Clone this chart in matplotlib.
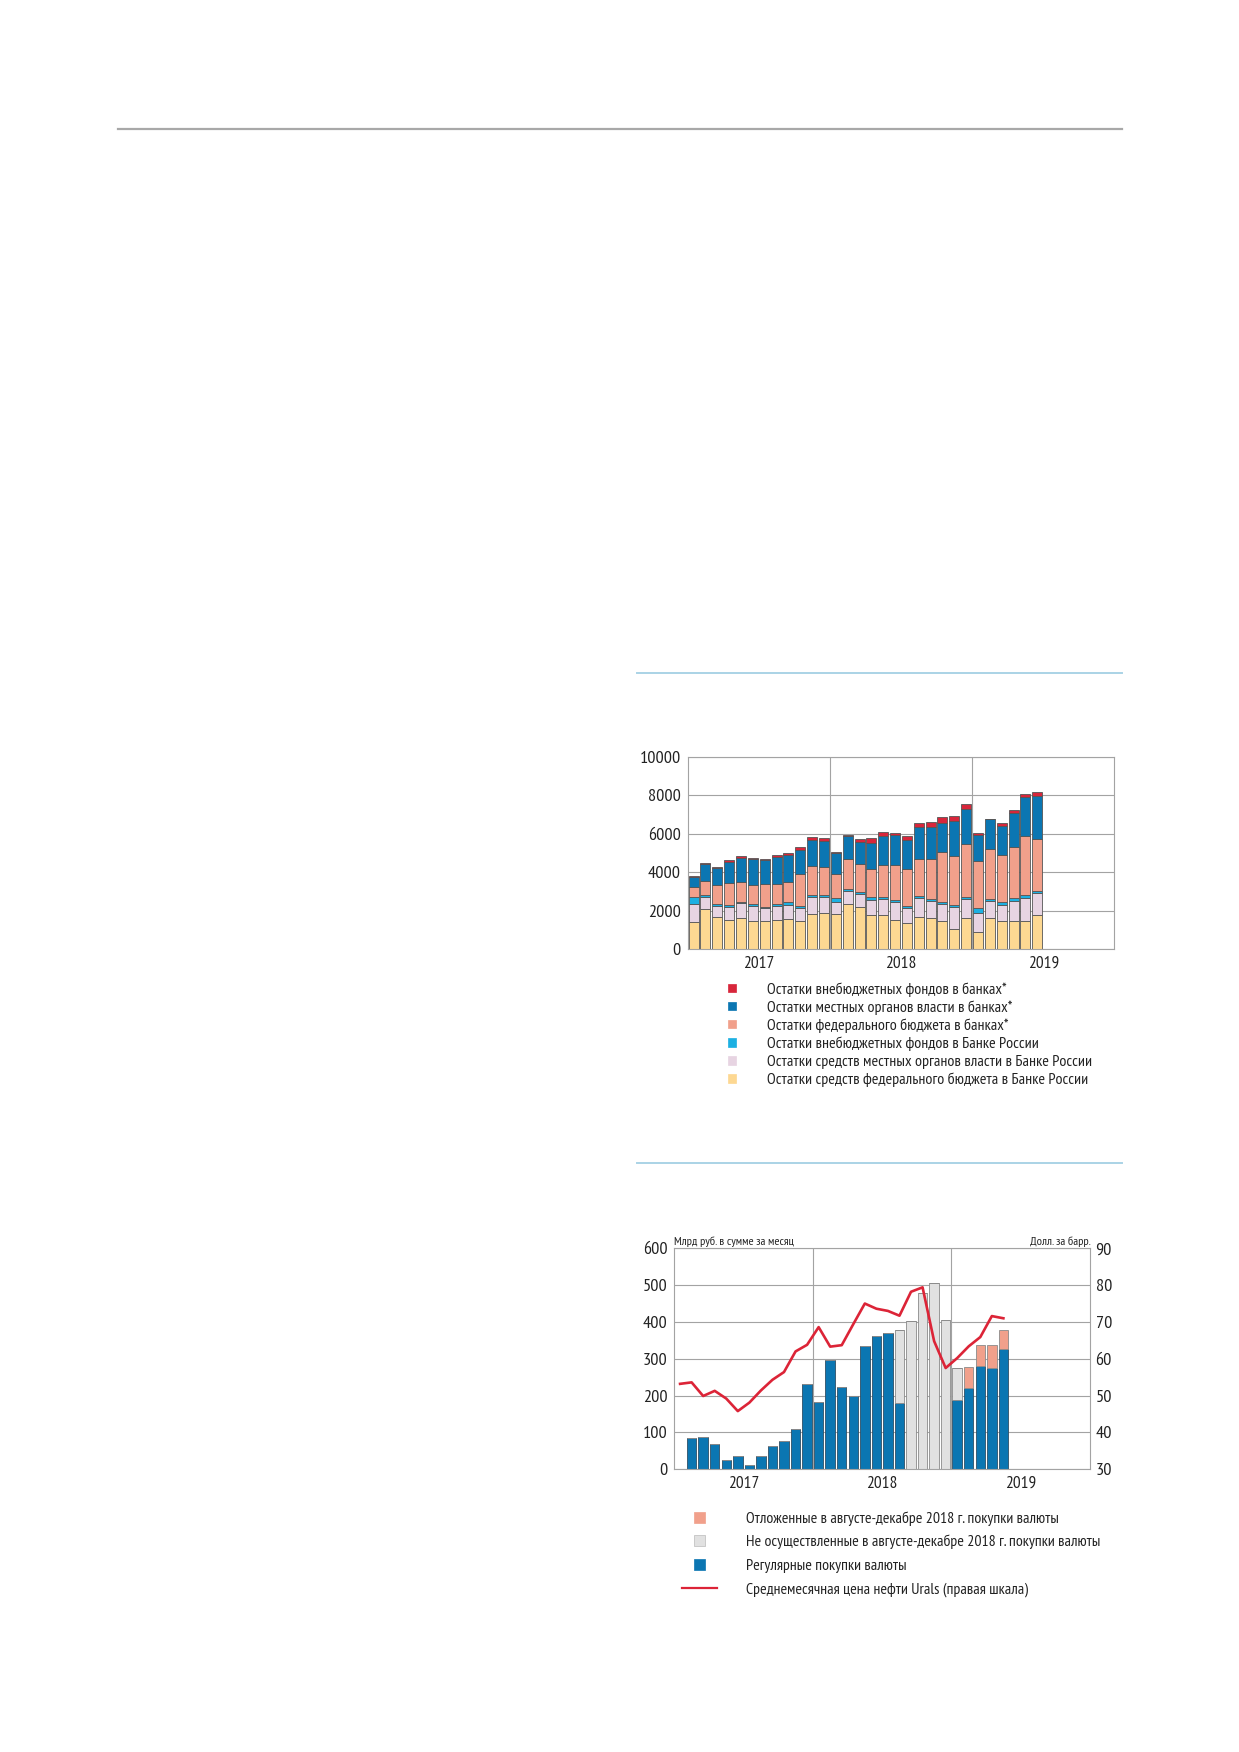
import numpy as np
import matplotlib
matplotlib.use('Agg')
import matplotlib.pyplot as plt
from matplotlib.lines import Line2D
from matplotlib.patches import Rectangle
from matplotlib import font_manager, ft2font
from matplotlib.font_manager import FontProperties
from matplotlib.textpath import TextPath

# chart 1: balances, bn rub, Jan 2017 - Jun 2019 (monthly)
fed_cbr = [1420, 2100, 1660, 1500, 1640, 1470, 1490, 1500, 1590, 1490, 1850, 1900,
           1850, 2360, 2205, 1795, 1795, 1540, 1385, 1675, 1640, 1490, 1075, 1625,
           890, 1625, 1490, 1490, 1470, 1795]
loc_cbr = [920, 635, 595, 720, 740, 785, 650, 740, 735, 680, 870, 820,
           595, 665, 650, 770, 820, 920, 755, 990, 855, 850, 1115, 990,
           1010, 905, 800, 1005, 1215, 1110]
offb_cbr = [360, 85, 105, 90, 80, 105, 80, 120, 105, 100, 100, 100,
            225, 105, 105, 135, 120, 120, 115, 105, 120, 120, 120, 120,
            220, 100, 140, 170, 135, 135]
fed_banks = [550, 735, 970, 1110, 1060, 955, 1150, 1040, 1040, 1630, 1505, 1455,
             1260, 1570, 1485, 1470, 1640, 1780, 1900, 1930, 2085, 2580, 2545, 2755,
             2480, 2585, 2475, 2650, 3060, 2705]
loc_banks = [510, 855, 870, 1130, 1230, 1370, 1245, 1390, 1420, 1280, 1365, 1365,
             1060, 1160, 1145, 1370, 1525, 1590, 1535, 1660, 1675, 1540, 1810, 1790,
             1350, 1555, 1505, 1745, 2035, 2235]
offb_banks = [40, 50, 90, 65, 70, 65, 65, 130, 120, 120, 140, 140,
              70, 90, 155, 220, 185, 100, 210, 205, 240, 275, 275, 260,
              100, 20, 135, 170, 155, 175]
labels1 = ['Остатки средств федерального бюджета в Банке России',
           'Остатки средств местных органов власти в Банке России',
           'Остатки внебюджетных фондов в Банке России',
           'Остатки федерального бюджета в банках*',
           'Остатки местных органов власти в банках*',
           'Остатки внебюджетных фондов в банках*']
colors1 = ['#fdd892', '#e7d4e2', '#1cb0e2', '#f1a08b', '#0b76b2', '#d8263b']
ticks1 = [0, 2000, 4000, 6000, 8000, 10000]

years = ['2017', '2018', '2019']

# chart 2: FX purchases, bn rub per month, Feb 2017 - May 2019
regular = [85, 87, 70, 24, 37, 11, 37, 64, 77, 110, 232,
           182, 298, 224, 199, 335, 361, 369, 181, 0, 0, 0, 0,
           188, 221, 281, 276, 326]
not_done = [0, 0, 0, 0, 0, 0, 0, 0, 0, 0, 0,
            0, 0, 0, 0, 0, 0, 0, 198, 403, 478, 505, 405,
            88, 0, 0, 0, 0]
deferred = [0, 0, 0, 0, 0, 0, 0, 0, 0, 0, 0,
            0, 0, 0, 0, 0, 0, 0, 0, 0, 0, 0, 0,
            0, 57, 57, 62, 51]
# Urals, USD/bbl, Jan 2017 - May 2019
urals = [53.2, 53.6, 49.9, 51.3, 49.2, 45.8, 48.1, 51.4, 54.3, 56.4, 62.0, 63.8,
         68.6, 63.3, 63.7, 69.4, 75.0, 73.6, 73.0, 71.7, 78.2, 79.4, 64.8, 57.5,
         60.2, 63.4, 65.9, 71.6, 71.0]
labels2 = ['Отложенные в августе-декабре 2018 г. покупки валюты',
           'Не осуществленные в августе-декабре 2018 г. покупки валюты',
           'Регулярные покупки валюты',
           'Среднемесячная цена нефти Urals (правая шкала)']
colors2 = ['#f1a08b', '#e1e1e1', '#0b76b2', '#dc2437']
ticks2 = [0, 100, 200, 300, 400, 500, 600]
ticks2r = [30, 40, 50, 60, 70, 80, 90]

# the original face is a condensed sans; pick an upright regular condensed font
# whose width/cap-height ratio is closest to the reference legend text
bad = ('italic', 'oblique', 'bold', 'light', 'thin', 'black', 'medium', 'heavy')
best = None
for f in font_manager.fontManager.ttflist:
    if not ('Narrow' in f.name or 'Condensed' in f.name or 'condensed' in str(f.stretch)):
        continue
    try:
        ft = ft2font.FT2Font(f.fname)
        if any(k in ft.style_name.lower() for k in bad):
            continue
        if ord('ж') not in ft.get_charmap():
            continue
        p = FontProperties(fname=f.fname)
        w = TextPath((0, 0), labels1[0], size=10, prop=p).get_extents().width
        c = TextPath((0, 0), 'Н', size=10, prop=p).get_extents().height
    except Exception:
        continue
    score = abs(w / c - 27.5)
    if best is None or score < best[0]:
        best = (score, f.fname)
fname = best[1] if best else None

def fp(size):
    if fname:
        return FontProperties(fname=fname, size=size)
    return FontProperties(family='Roboto', size=size)

def fit(s, px):
    # font size (pt) so that string s is px pixels wide at dpi 100
    w = TextPath((0, 0), s, size=10, prop=fp(10)).get_extents().width * 100 / 72
    return 10 * px / w

tick_fs = min(fit('10000', 39), 13.5)
year_fs = min(fit('2017', 29.5), 13.5)
leg1_fs = min(fit(labels1[0], 317), 12.5)
leg2_fs = min(fit(labels2[1], 351), 12.5)
small_fs = min(fit('Млрд руб. в сумме за месяц', 118), 9)

W, H = 1239, 1752
fig = plt.figure(figsize=(W / 100, H / 100), dpi=100)

def box(l, t, r, b):
    return [l / W, 1 - b / H, (r - l) / W, (b - t) / H]

def hline(x0, x1, y, col, lw):
    fig.add_artist(Line2D([x0 / W, x1 / W], [1 - y / H, 1 - y / H], color=col, lw=lw))

hline(118, 1122, 129, '#a8a8a8', 1.6)
hline(637, 1122, 673, '#aad3e6', 1.4)
hline(637, 1122, 1163, '#aad3e6', 1.4)

grid_col = '#a3a3a3'
txt_col = '#222222'

def style(ax, yt):
    ax.set_xlim(0, 36)
    ax.set_xticks([12, 24])
    ax.set_xticklabels(['', ''])
    ax.set_xticks([6, 18, 30], minor=True)
    ax.set_xticklabels(years, minor=True, fontproperties=fp(year_fs))
    ax.set_ylim(yt[0], yt[-1])
    ax.set_yticks(yt)
    ax.set_yticklabels([str(v) for v in yt], fontproperties=fp(tick_fs))
    ax.tick_params(which='both', length=0, colors=txt_col)
    ax.tick_params(axis='y', pad=5)
    ax.tick_params(axis='x', which='minor', pad=4.5)
    ax.grid(which='major', color=grid_col, lw=0.8)
    ax.set_axisbelow(True)
    for s in ax.spines.values():
        s.set_color(grid_col)
        s.set_linewidth(0.8)

def legend_rows(items, labels, x_mark, x_text, y0, dy, fs, sq):
    cap = 0.72 * fs * 100 / 72
    for i, (kind, col) in enumerate(items):
        yc = y0 + i * dy
        if kind == 'sq':
            fig.add_artist(Rectangle(((x_mark - sq / 2) / W, 1 - (yc + sq / 2) / H),
                                     sq / W, sq / H, facecolor=col,
                                     edgecolor='#bbbbbb' if col == '#e1e1e1' else col,
                                     lw=0.5, transform=fig.transFigure))
        else:
            fig.add_artist(Line2D([(x_mark - 17.5) / W, (x_mark + 17.5) / W],
                                  [1 - yc / H, 1 - yc / H], color=col, lw=1.6))
        fig.text(x_text / W, 1 - (yc + cap / 2) / H, labels[i], fontproperties=fp(fs),
                 ha='left', va='baseline', color=txt_col)

# ---- chart 1
ax1 = fig.add_axes(box(687.7, 756.7, 1114.3, 949.3))
x1 = np.arange(len(fed_cbr)) + 0.5
bottom = np.zeros(len(fed_cbr))
for vals, col in zip([fed_cbr, loc_cbr, offb_cbr, fed_banks, loc_banks, offb_banks], colors1):
    ax1.bar(x1, vals, width=0.84, bottom=bottom, color=col, edgecolor='#555555', lw=0.6)
    bottom += np.array(vals)
style(ax1, ticks1)

legend_rows([('sq', c) for c in colors1[::-1]], labels1[::-1],
            732, 766.7, 988, 18.1, leg1_fs, 8.5)

# ---- chart 2
ax2 = fig.add_axes(box(674.3, 1248.3, 1090, 1469.3))
xb = np.arange(1, len(regular) + 1) + 0.5
reg = np.array(regular)
nd = np.array(not_done)
ax2.bar(xb, regular, width=0.82, color=colors2[2], edgecolor='#2f4f66', lw=0.6)
ax2.bar(xb, not_done, width=0.82, bottom=reg, color=colors2[1], edgecolor='#8a8a8a', lw=0.6)
ax2.bar(xb, deferred, width=0.82, bottom=reg + nd, color=colors2[0], edgecolor='#8a8a8a', lw=0.6)
style(ax2, ticks2)

ax2r = ax2.twinx()
ax2r.plot(np.arange(len(urals)) + 0.5, urals, color=colors2[3], lw=1.9)
ax2r.set_ylim(ticks2r[0], ticks2r[-1])
ax2r.set_yticks(ticks2r)
ax2r.set_yticklabels([str(v) for v in ticks2r], fontproperties=fp(tick_fs))
ax2r.tick_params(length=0, colors=txt_col, pad=4)
for s in ax2r.spines.values():
    s.set_visible(False)

fig.text(674.3 / W, 1 - 1245 / H, 'Млрд руб. в сумме за месяц', fontproperties=fp(small_fs),
         ha='left', va='baseline', color=txt_col)
fig.text(1091 / W, 1 - 1245 / H, 'Долл. за барр.', fontproperties=fp(small_fs),
         ha='right', va='baseline', color=txt_col)

legend_rows([('sq', colors2[0]), ('sq', colors2[1]), ('sq', colors2[2]), ('ln', colors2[3])],
            labels2, 699.5, 746, 1517, 23.6, leg2_fs, 11)

fig.savefig('out.png', dpi=100)
